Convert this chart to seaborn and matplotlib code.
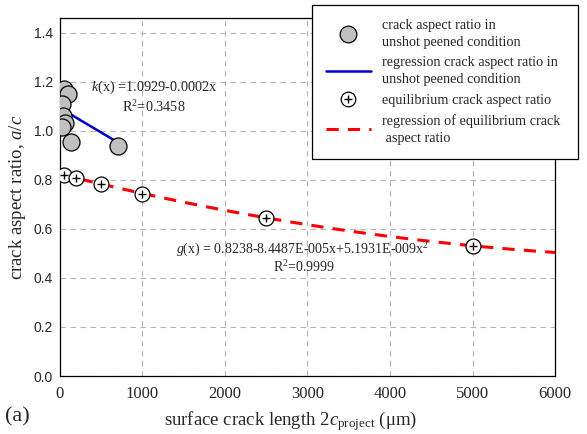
import numpy as np
import pandas as pd
import matplotlib
matplotlib.use("Agg")
import matplotlib.pyplot as plt
import seaborn as sns
from matplotlib.lines import Line2D

# ---- data ----
unshot_x = [50, 100, 20, 40, 60, 30, 130, 700]
unshot_y = [1.17, 1.15, 1.11, 1.06, 1.03, 1.015, 0.955, 0.94]
k_coef = [1.0929, -0.0002]            # k(x) = a + b x
eq_x = [50, 200, 500, 1000, 2500, 5000]
eq_y = [0.82, 0.807, 0.783, 0.744, 0.645, 0.531]
g_coef = [0.8238, -8.4487e-05, 5.1931e-09]  # g(x) = a + b x + c x^2
x_ticks = [0, 1000, 2000, 3000, 4000, 5000, 6000]
y_ticks = [0.0, 0.2, 0.4, 0.6, 0.8, 1.0, 1.2, 1.4]

sns.set_style("white")
plt.rcParams['font.family'] = ['Liberation Serif', 'DejaVu Serif']
plt.rcParams['mathtext.fontset'] = 'custom'
plt.rcParams['mathtext.rm'] = 'Liberation Serif'
plt.rcParams['mathtext.it'] = 'Liberation Serif:italic'

fig = plt.figure(figsize=(5.87, 4.34), dpi=100)
ax = fig.add_axes([0.1022, 0.1336, 0.8433, 0.8249])

# regression lines
kx = np.array([min(unshot_x), max(unshot_x)])
k_df = pd.DataFrame({"x": kx, "y": k_coef[0] + k_coef[1] * kx})
gx = np.linspace(0, 6000, 200)
g_df = pd.DataFrame({"x": gx, "y": g_coef[0] + g_coef[1] * gx + g_coef[2] * gx ** 2})

sns.lineplot(data=g_df, x="x", y="y", ax=ax, color="#ff0000", lw=2.2,
             linestyle=(0, (4, 3)), zorder=3)
sns.lineplot(data=k_df, x="x", y="y", ax=ax, color="#0000cc", lw=1.8, zorder=3)

un_df = pd.DataFrame({"x": unshot_x, "y": unshot_y})
sns.scatterplot(data=un_df, x="x", y="y", ax=ax, s=150, color="#c0c0c0",
                edgecolor="black", linewidth=0.9, zorder=4)
eq_df = pd.DataFrame({"x": eq_x, "y": eq_y})
sns.scatterplot(data=eq_df, x="x", y="y", ax=ax, s=115, color="white",
                edgecolor="black", linewidth=0.9, zorder=5)
sns.scatterplot(data=eq_df, x="x", y="y", ax=ax, s=35, marker="+",
                color="black", linewidth=1.0, zorder=6)

ax.set_xlim(0, 6000)
ax.set_ylim(0, 1.46)
ax.set_xticks(x_ticks)
ax.set_yticks(y_ticks)
ax.set_xticklabels([str(t) for t in x_ticks], fontsize=12, family='Liberation Serif')
ax.set_yticklabels([f"{t:.1f}" for t in y_ticks], fontsize=10, family='Liberation Sans')
ax.tick_params(direction='in', length=4, width=0.8, color='#555555', pad=5)
ax.tick_params(axis='x', pad=7)
ax.grid(True, color='#b5b5b5', linestyle=(0, (5, 4)), lw=0.8)
ax.set_axisbelow(True)
for s in ax.spines.values():
    s.set_color('black')
    s.set_linewidth(0.9)

ax.set_xlabel(r"surface crack length 2$c_{\mathrm{project}}$ ($\mathrm{\mu}$m)", fontsize=13.5)
ax.xaxis.set_label_coords((291 - 60) / 495, -0.092)
ax.set_ylabel(r"crack aspect ratio, $a/c$", fontsize=13.5, labelpad=4)

ax.text(1140, 1.176, r"$k$(x) =1.0929-0.0002x", fontsize=10.3, ha='center', va='center')
ax.text(1140, 1.095, r"R$^2$=0.3458", fontsize=10.3, ha='center', va='center')
ax.text(2936, 0.513, r"$g$(x) = 0.8238-8.4487E-005x+5.1931E-009x$^2$", fontsize=10, ha='center', va='center')
ax.text(2960, 0.444, r"R$^2$=0.9999", fontsize=10, ha='center', va='center')

fig.text(0.008, 0.04, "(a)", fontsize=16, ha='left', va='center')

h1 = Line2D([], [], marker='o', ls='none', markersize=12, markerfacecolor='#c0c0c0',
            markeredgecolor='black', markeredgewidth=0.9)
h2 = Line2D([], [], color='#0000cc', lw=1.8)
h3a = Line2D([], [], marker='o', ls='none', markersize=10.5, markerfacecolor='white',
             markeredgecolor='black', markeredgewidth=0.9)
h3b = Line2D([], [], marker='+', ls='none', markersize=6, color='black', markeredgewidth=1.0)
h4 = Line2D([], [], color='#ff0000', lw=2.2, linestyle=(0, (4, 3)))
labels = ["crack aspect ratio in\nunshot peened condition",
          "regression crack aspect ratio in\nunshot peened condition",
          "equilibrium crack aspect ratio",
          "regression of equilibrium crack\n aspect ratio"]
leg = fig.legend([h1, h2, (h3a, h3b), h4], labels, loc='upper left',
                 bbox_to_anchor=(312 / 587, 1 - 5 / 434, 266 / 587, 0.0),
                 mode='expand', fontsize=10.3, frameon=True,
                 fancybox=False, edgecolor='black', handlelength=3.1,
                 handletextpad=0.8, borderpad=1.0, labelspacing=0.53,
                 borderaxespad=0)
for t in leg.get_texts():
    t.set_linespacing(1.36)
leg.get_frame().set_linewidth(0.9)
leg.get_frame().set_alpha(1)
leg.set_zorder(10)

fig.savefig("out.png", dpi=100)
